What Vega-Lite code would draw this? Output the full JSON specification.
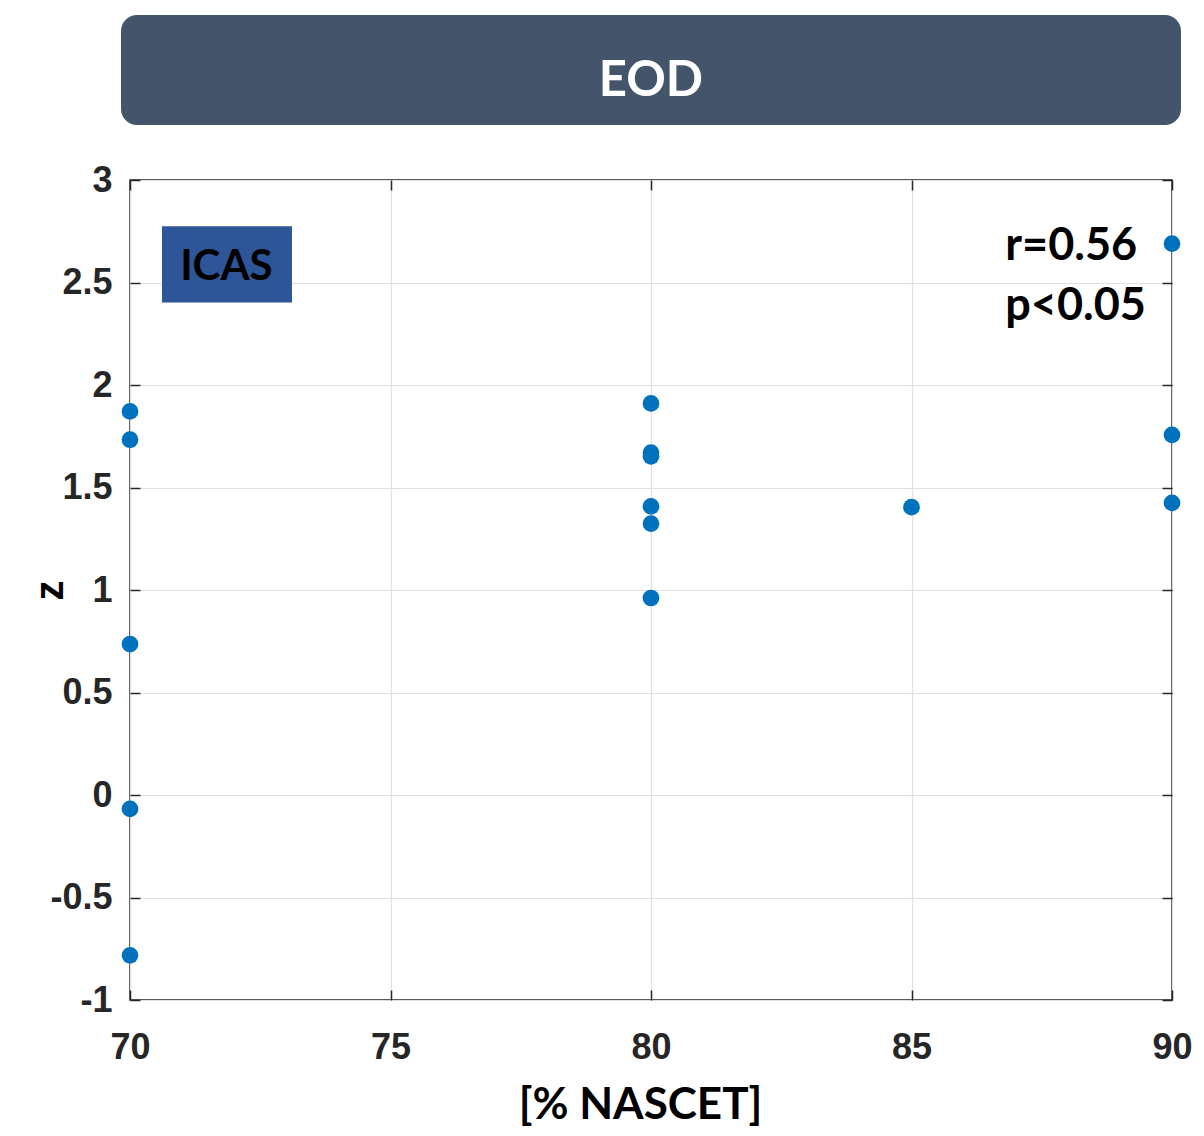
{
  "$schema": "https://vega.github.io/schema/vega-lite/v6.json",
  "background": "white",
  "padding": {"left": 29, "top": 15, "right": 5, "bottom": 5},
  "config": {"view": {"stroke": null}},
  "bounds": "flush",
  "center": true,
  "spacing": 55,
  "vconcat": [
    {
      "width": 1060,
      "height": 110,
      "view": {"fill": "#44546a", "cornerRadius": 16, "stroke": null},
      "data": {"values": [{"label": "EOD"}]},
      "mark": {"type": "text", "font": "Lato", "fontWeight": "bold", "fontSize": 49, "color": "white", "align": "center", "baseline": "alphabetic", "dy": 26},
      "encoding": {"text": {"field": "label"}}
    },
    {
      "width": 1042,
      "height": 820,
      "view": {"stroke": "#262626", "strokeWidth": 1.5},
      "resolve": {"axis": {"x": "independent", "y": "independent"}},
      "layer": [
        {
          "data": {"values": [
            {"nascet": 70, "z": 1.871},
            {"nascet": 70, "z": 1.733},
            {"nascet": 70, "z": 0.736},
            {"nascet": 70, "z": -0.068},
            {"nascet": 70, "z": -0.782},
            {"nascet": 80, "z": 1.91},
            {"nascet": 80, "z": 1.67},
            {"nascet": 80, "z": 1.652},
            {"nascet": 80, "z": 1.408},
            {"nascet": 80, "z": 1.324},
            {"nascet": 80, "z": 0.961},
            {"nascet": 85, "z": 1.404},
            {"nascet": 90, "z": 2.69},
            {"nascet": 90, "z": 1.757},
            {"nascet": 90, "z": 1.425}
          ]},
          "mark": {"type": "circle", "size": 280, "color": "#0072bd", "opacity": 1},
          "encoding": {
            "x": {"field": "nascet", "type": "quantitative",
              "scale": {"domain": [70, 90], "nice": false, "zero": false},
              "axis": {"orient": "bottom", "values": [70, 75, 80, 85, 90], "title": "[% NASCET]",
                "domain": false, "grid": true, "gridColor": "#e0e0e0", "gridWidth": 1.2,
                "ticks": true, "tickSize": -10, "tickColor": "#262626", "tickWidth": 1.5,
                "labelFlush": false, "labelOverlap": false,
                "labelPadding": 40, "labelFont": "Liberation Sans", "labelFontWeight": "bold", "labelFontSize": 36, "labelColor": "#262626",
                "titleFont": "Lato", "titleFontWeight": "bold", "titleFontSize": 44, "titleColor": "#000000", "titlePadding": 18, "titleX": 510}},
            "y": {"field": "z", "type": "quantitative",
              "scale": {"domain": [-1, 3], "nice": false, "zero": false},
              "axis": {"orient": "left", "values": [-1, -0.5, 0, 0.5, 1, 1.5, 2, 2.5, 3], "title": "z",
                "labelExpr": "'' + datum.value",
                "domain": false, "grid": true, "gridColor": "#e0e0e0", "gridWidth": 1.2,
                "ticks": true, "tickSize": -10, "tickColor": "#262626", "tickWidth": 1.5,
                "labelFlush": false, "labelOverlap": false,
                "labelPadding": 28, "labelFont": "Liberation Sans", "labelFontWeight": "bold", "labelFontSize": 36, "labelColor": "#262626",
                "titleFont": "Liberation Sans", "titleFontWeight": "bold", "titleFontSize": 40, "titleColor": "#000000",
                "titleX": -80, "titleY": 410, "titleAlign": "center", "titleBaseline": "middle", "titleAngle": 270}}
          }
        },
        {
          "data": {"values": [{"label": "ICAS"}]},
          "mark": {"type": "rect", "color": "#2e5597"},
          "encoding": {
            "x": {"datum": 70.614, "type": "quantitative", "scale": {"domain": [70, 90], "nice": false, "zero": false}, "axis": null},
            "x2": {"datum": 73.109},
            "y": {"datum": 2.775, "type": "quantitative", "scale": {"domain": [-1, 3], "nice": false, "zero": false}, "axis": null},
            "y2": {"datum": 2.403}
          }
        },
        {
          "data": {"values": [{"label": "ICAS"}]},
          "mark": {"type": "text", "font": "Lato", "fontWeight": "bold", "fontSize": 42, "color": "#000000", "align": "center", "baseline": "alphabetic"},
          "encoding": {
            "x": {"datum": 71.85, "type": "quantitative", "scale": {"domain": [70, 90], "nice": false, "zero": false}, "axis": null},
            "y": {"datum": 2.511, "type": "quantitative", "scale": {"domain": [-1, 3], "nice": false, "zero": false}, "axis": null},
            "text": {"field": "label"}
          }
        },
        {
          "data": {"values": [{"label": "r=0.56"}]},
          "mark": {"type": "text", "font": "Lato", "fontWeight": "bold", "fontSize": 45, "color": "#000000", "align": "left", "baseline": "alphabetic"},
          "encoding": {
            "x": {"datum": 86.8, "type": "quantitative", "scale": {"domain": [70, 90], "nice": false, "zero": false}, "axis": null},
            "y": {"datum": 2.609, "type": "quantitative", "scale": {"domain": [-1, 3], "nice": false, "zero": false}, "axis": null},
            "text": {"field": "label"}
          }
        },
        {
          "data": {"values": [{"label": "p<0.05"}]},
          "mark": {"type": "text", "font": "Lato", "fontWeight": "bold", "fontSize": 45, "color": "#000000", "align": "left", "baseline": "alphabetic"},
          "encoding": {
            "x": {"datum": 86.8, "type": "quantitative", "scale": {"domain": [70, 90], "nice": false, "zero": false},
              "axis": {"orient": "top", "values": [70, 75, 80, 85, 90], "title": null, "labels": false, "domain": false, "grid": false,
                "ticks": true, "tickSize": -10, "tickColor": "#262626", "tickWidth": 1.5}},
            "y": {"datum": 2.315, "type": "quantitative", "scale": {"domain": [-1, 3], "nice": false, "zero": false},
              "axis": {"orient": "right", "values": [-1, -0.5, 0, 0.5, 1, 1.5, 2, 2.5, 3], "title": null, "labels": false, "domain": false, "grid": false,
                "ticks": true, "tickSize": -10, "tickColor": "#262626", "tickWidth": 1.5}},
            "text": {"field": "label"}
          }
        }
      ]
    }
  ]
}
